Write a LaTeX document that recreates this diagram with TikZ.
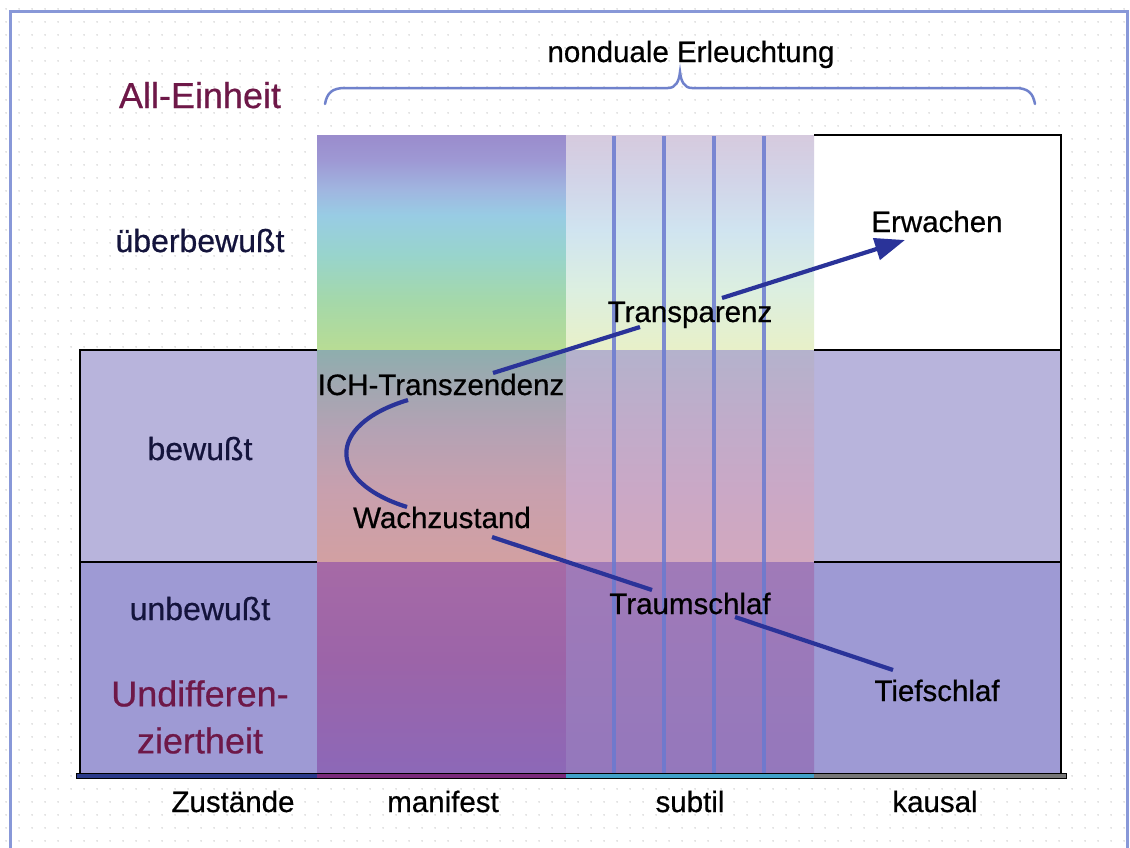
\documentclass[tikz,border=0pt]{standalone}
\usepackage{fontspec}
\setmainfont{Liberation Sans}[FakeBold=0.6]
\usetikzlibrary{arrows.meta,patterns}

\pgfdeclarepatternformonly{bgdots}{\pgfpointorigin}{\pgfpoint{12.6pt}{12.6pt}}{\pgfpoint{12.6pt}{12.6pt}}{\pgfpathcircle{\pgfpoint{6.3pt}{6.3pt}}{0.8pt}\pgfusepath{fill}}

% frame and text colours
\definecolor{frameblue}{HTML}{8898D8}
\definecolor{bracecol}{HTML}{7082CC}
\definecolor{maroon}{HTML}{6E1848}
\definecolor{pathblue}{HTML}{2A3399}
\definecolor{sublines}{HTML}{6A7AD0}
\definecolor{rowB}{HTML}{B8B4DC}
\definecolor{rowC}{HTML}{9E9AD4}
\definecolor{axnavy}{HTML}{2A3A8A}
\definecolor{axmag}{HTML}{7A2A7A}
\definecolor{axcyan}{HTML}{40A0C8}
\definecolor{axgray}{HTML}{767676}
\definecolor{rowtext}{HTML}{14143C}

% manifest column colours
\definecolor{mA0}{HTML}{9A8CCC}
\definecolor{mA1}{HTML}{9E98D4}
\definecolor{mA2}{HTML}{A0B6E0}
\definecolor{mA3}{HTML}{98CCE4}
\definecolor{mA4}{HTML}{98D4CC}
\definecolor{mA5}{HTML}{A4D8AA}
\definecolor{mA6}{HTML}{B8DC94}
\definecolor{mB0}{HTML}{8EAEAE}
\definecolor{mB1}{HTML}{9EA8B0}
\definecolor{mB2}{HTML}{B4A2B4}
\definecolor{mB3}{HTML}{C8A0AE}
\definecolor{mB4}{HTML}{D2A0A2}
\definecolor{mC0}{HTML}{A66AA6}
\definecolor{mC1}{HTML}{9C64A8}
\definecolor{mC2}{HTML}{8C68B8}
% subtil column colours
\definecolor{sA0}{HTML}{D6CADE}
\definecolor{sA1}{HTML}{D2D4E8}
\definecolor{sA2}{HTML}{D0E4F0}
\definecolor{sA3}{HTML}{DCEFE0}
\definecolor{sA4}{HTML}{E8F0C8}
\definecolor{sB0}{HTML}{B4B2CC}
\definecolor{sB1}{HTML}{C0ACCA}
\definecolor{sB2}{HTML}{CAA8C6}
\definecolor{sB3}{HTML}{D2A8BE}
\definecolor{sC0}{HTML}{A07AB8}
\definecolor{sC1}{HTML}{9478BC}

\pgfdeclareverticalshading{manA}{100bp}{color(0bp)=(mA6); color(25bp)=(mA6); color(36.63bp)=(mA5); color(47.1bp)=(mA4); color(56.4bp)=(mA3); color(62.21bp)=(mA2); color(69.19bp)=(mA1); color(75bp)=(mA0); color(100bp)=(mA0)}
\pgfdeclareverticalshading{manB}{100bp}{color(0bp)=(mB4); color(25bp)=(mB4); color(41.98bp)=(mB3); color(56.13bp)=(mB2); color(67.92bp)=(mB1); color(75bp)=(mB0); color(100bp)=(mB0)}
\pgfdeclareverticalshading{manC}{100bp}{color(0bp)=(mC2); color(25bp)=(mC2); color(52.1bp)=(mC1); color(75bp)=(mC0); color(100bp)=(mC0)}
\pgfdeclareverticalshading{subA}{100bp}{color(0bp)=(sA4); color(25bp)=(sA4); color(38.95bp)=(sA3); color(52.91bp)=(sA2); color(64.53bp)=(sA1); color(75bp)=(sA0); color(100bp)=(sA0)}
\pgfdeclareverticalshading{subB}{100bp}{color(0bp)=(sB3); color(25bp)=(sB3); color(41.98bp)=(sB2); color(58.49bp)=(sB1); color(75bp)=(sB0); color(100bp)=(sB0)}
\pgfdeclareverticalshading{subC}{100bp}{color(0bp)=(sC1); color(25bp)=(sC1); color(75bp)=(sC0); color(100bp)=(sC0)}

\tikzset{
  lab/.style={font=\fontsize{29.5}{34}\selectfont, inner sep=0pt, anchor=base, text=black},
  rowlab/.style={font=\fontsize{32}{36}\selectfont, inner sep=0pt, anchor=base, text=rowtext},
  biglab/.style={font=\fontsize{36}{47}\selectfont, inner sep=0pt, text=maroon},
  rowline/.style={draw=black, line width=1.2pt},
  pathseg/.style={draw=pathblue, line width=4.2pt},
  subline/.style={draw=sublines, line width=4pt, opacity=0.85},
}

\begin{document}
\begin{tikzpicture}[x=1pt,y=-1pt]
\useasboundingbox (0,0) rectangle (1130,847);
% background
\fill[white] (0,0) rectangle (1130,847);
\fill[pattern=bgdots, pattern color=black!22] (0,0) rectangle (1130,847);
% outer frame
\draw[frameblue, line width=3pt] (10,860) -- (10,11) -- (1127,11) -- (1127,860);

% left column rows
\fill[rowB] (80,350) rectangle (317,562);
\fill[rowC] (80,562) rectangle (317,776);
% kausal column rows
\fill[white] (814,135) rectangle (1061,350);
\fill[rowB] (814,350) rectangle (1061,562);
\fill[rowC] (814,562) rectangle (1061,776);
% manifest column
\shade[shading=manA] (317,135) rectangle (566,350);
\shade[shading=manB] (317,350) rectangle (566,562);
\shade[shading=manC] (317,562) rectangle (566,776);
% subtil column
\shade[shading=subA] (566,135) rectangle (814,350);
\shade[shading=subB] (566,350) rectangle (814,562);
\shade[shading=subC] (566,562) rectangle (814,776);
% subtil vertical lines
\foreach \xx in {614,664,714,764} \draw[subline] (\xx,136) -- (\xx,775);

% black outlines
\draw[rowline] (317,350) -- (80,350) -- (80,776);
\draw[rowline] (80,562) -- (317,562);
\draw[rowline] (814,135) -- (1061,135) -- (1061,776);
\draw[rowline] (814,350) -- (1061,350);
\draw[rowline] (814,562) -- (1061,562);

% bottom axis
\fill[axnavy] (76,773.5) rectangle (317,778.5);
\fill[axmag] (317,773.5) rectangle (566,778.5);
\fill[axcyan] (566,773.5) rectangle (814,778.5);
\fill[axgray] (814,773.5) rectangle (1066,778.5);
\draw[black, line width=0.8pt] (76,773.5) rectangle (1066,778.5);

% brace
\draw[bracecol, line width=2.5pt, line cap=round]
  (325,104) .. controls (327,93) and (332,88) .. (345,88) -- (668,88)
  .. controls (676,88) and (679,81) .. (680,72)
  .. controls (681,81) and (684,88) .. (692,88) -- (1015,88)
  .. controls (1028,88) and (1033,93) .. (1035,104);

% labels
\node[lab] (nond) at (691,62) {nonduale Erleuchtung};
\node[biglab, anchor=base] (allein) at (200,108) {All-Einheit};
\node[rowlab] (ueber) at (200,252) {überbewußt};
\node[rowlab] (bew) at (200,460) {bewußt};
\node[rowlab] (unbew) at (200,620) {unbewußt};
\node[biglab, align=center, anchor=center] (undiff) at (200,717) {Undifferen-\\ziertheit};

\node[lab] (erw) at (937,232) {Erwachen};
\node[lab] (transp) at (690,322) {Transparenz};
\node[lab] (ich) at (441,395) {ICH-Transzendenz};
\node[lab] (wach) at (442,528) {Wachzustand};
\node[lab] (traum) at (690,614) {Traumschlaf};
\node[lab] (tief) at (937,701) {Tiefschlaf};

\node[lab] (zust) at (233,812) {Zustände};
\node[lab] (manif) at (443,812) {manifest};
\node[lab] (subtil) at (690,812) {subtil};
\node[lab] (kausal) at (935,812) {kausal};

% development path
\draw[pathseg] ([shift={(-44,-31)}]tief.base) -- ([shift={(45,3)}]traum.base);
\draw[pathseg] ([shift={(-38,-24)}]traum.base) -- ([shift={(50,9)}]wach.base);
\draw[pathseg] ([shift={(-35,-21)}]wach.base) .. controls (327,482) and (325,425) .. ([shift={(-33,5)}]ich.base);
\draw[pathseg] ([shift={(52,-22)}]ich.base) -- ([shift={(-50,5)}]transp.base);
\draw[pathseg, -{Triangle[length=30pt,width=22pt]}] ([shift={(32,-24)}]transp.base) -- ([shift={(-32,8)}]erw.base);
\end{tikzpicture}
\end{document}
